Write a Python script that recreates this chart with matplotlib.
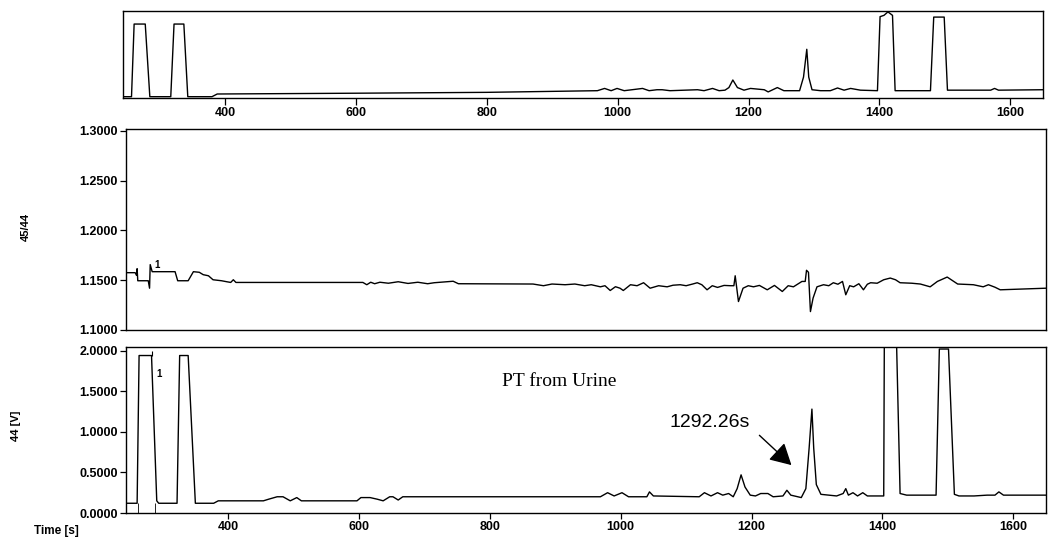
import matplotlib
matplotlib.use('Agg')
import matplotlib.pyplot as plt
import numpy as np

W, H = 1048, 544

# overview trace (relative intensity, 0..1)
overview_trace = [
    (245, 0.015), (257, 0.015), (261, 0.85), (278, 0.85), (285, 0.015),
    (317, 0.015), (322, 0.85), (337, 0.85), (343, 0.015), (380, 0.015),
    (388, 0.046), (600, 0.055), (800, 0.065), (969, 0.084), (980, 0.11),
    (990, 0.084), (999, 0.11), (1010, 0.084), (1038, 0.11), (1048, 0.084),
    (1060, 0.095), (1068, 0.095), (1080, 0.084), (1122, 0.095), (1132, 0.084),
    (1145, 0.11), (1155, 0.084), (1164, 0.09), (1170, 0.12), (1176, 0.207),
    (1183, 0.12), (1193, 0.09), (1203, 0.11), (1224, 0.095), (1230, 0.07),
    (1244, 0.12), (1254, 0.084), (1278, 0.084), (1284, 0.24), (1289, 0.56),
    (1292, 0.24), (1297, 0.095), (1310, 0.084), (1325, 0.084), (1336, 0.115),
    (1346, 0.09), (1356, 0.11), (1371, 0.09), (1397, 0.084), (1401, 0.935),
    (1407, 0.95), (1413, 0.99), (1420, 0.95), (1424, 0.084), (1478, 0.084),
    (1483, 0.93), (1499, 0.93), (1504, 0.09), (1570, 0.09), (1576, 0.11),
    (1582, 0.09), (1650, 0.095),
]

# 45/44 ratio trace
ratio_trace = [
    (244, 1.1576), (258, 1.1576), (260, 1.155), (261, 1.1616), (262, 1.1495),
    (278, 1.1495), (280, 1.142), (281, 1.1657), (284, 1.1586), (319, 1.1586),
    (323, 1.1495), (339, 1.1495), (347, 1.1586), (356, 1.158), (362, 1.1556),
    (370, 1.1545), (377, 1.1505), (390, 1.1495), (398, 1.1485), (404, 1.1478),
    (408, 1.1505), (412, 1.1478), (606, 1.1478), (612, 1.1455), (618, 1.148),
    (624, 1.1465), (632, 1.148), (645, 1.147), (660, 1.1485), (675, 1.1468),
    (690, 1.148), (705, 1.1465), (715, 1.1475), (744, 1.149), (752, 1.1465),
    (866, 1.1462), (882, 1.1445), (895, 1.1462), (915, 1.1455), (930, 1.1462),
    (945, 1.1445), (955, 1.1455), (969, 1.1434), (976, 1.1445), (984, 1.1397),
    (992, 1.1435), (999, 1.142), (1004, 1.1397), (1015, 1.1455), (1025, 1.1445),
    (1035, 1.1475), (1045, 1.142), (1058, 1.1445), (1071, 1.1434), (1080, 1.145),
    (1091, 1.1455), (1100, 1.1445), (1110, 1.1462), (1117, 1.1475), (1124, 1.1455),
    (1132, 1.1404), (1140, 1.1445), (1148, 1.1428), (1158, 1.1448), (1168, 1.1445),
    (1173, 1.1445), (1175, 1.1545), (1180, 1.1286), (1187, 1.142), (1195, 1.1445),
    (1203, 1.1434), (1212, 1.1448), (1224, 1.1404), (1235, 1.1448), (1247, 1.1387),
    (1256, 1.1445), (1264, 1.1434), (1277, 1.1488), (1282, 1.1488), (1284, 1.160),
    (1287, 1.158), (1290, 1.1185), (1294, 1.132), (1300, 1.1434), (1310, 1.1455),
    (1318, 1.1445), (1325, 1.1475), (1332, 1.146), (1339, 1.1488), (1344, 1.1354),
    (1350, 1.1445), (1356, 1.1434), (1364, 1.1465), (1371, 1.1404), (1377, 1.146),
    (1382, 1.1475), (1392, 1.147), (1402, 1.1505), (1412, 1.1522), (1420, 1.1505),
    (1427, 1.1475), (1445, 1.147), (1458, 1.1462), (1473, 1.1434), (1484, 1.1488),
    (1499, 1.1532), (1515, 1.1462), (1539, 1.1455), (1554, 1.1434), (1562, 1.1455),
    (1572, 1.143), (1580, 1.1404), (1650, 1.142),
]

# mass 44 signal [V]
signal_trace = [
    (245, 0.12), (261, 0.12), (264, 1.94), (283, 1.94), (291, 0.15),
    (294, 0.12), (322, 0.12), (326, 1.94), (339, 1.94), (350, 0.12),
    (378, 0.12), (385, 0.15), (454, 0.15), (462, 0.17), (475, 0.2),
    (484, 0.2), (495, 0.15), (505, 0.19), (512, 0.15), (597, 0.15),
    (603, 0.19), (617, 0.19), (628, 0.17), (637, 0.15), (647, 0.2),
    (652, 0.2), (660, 0.16), (667, 0.2), (969, 0.2), (980, 0.25),
    (990, 0.21), (1002, 0.25), (1012, 0.2), (1040, 0.2), (1044, 0.26),
    (1050, 0.21), (1120, 0.2), (1128, 0.25), (1138, 0.21), (1148, 0.25),
    (1156, 0.22), (1165, 0.24), (1172, 0.2), (1178, 0.3), (1184, 0.47),
    (1190, 0.32), (1198, 0.22), (1206, 0.21), (1214, 0.24), (1225, 0.24),
    (1233, 0.2), (1248, 0.21), (1254, 0.28), (1260, 0.22), (1276, 0.19),
    (1283, 0.3), (1288, 0.8), (1292.26, 1.28), (1295, 0.8), (1299, 0.35),
    (1306, 0.23), (1330, 0.21), (1340, 0.24), (1344, 0.3), (1348, 0.22),
    (1355, 0.25), (1362, 0.21), (1370, 0.25), (1377, 0.21), (1402, 0.21),
    (1403, 2.3), (1421, 2.3), (1427, 0.24), (1437, 0.22), (1482, 0.22),
    (1487, 2.02), (1501, 2.02), (1510, 0.23), (1517, 0.21), (1540, 0.21),
    (1560, 0.22), (1572, 0.22), (1578, 0.26), (1585, 0.22), (1650, 0.22),
]

time_ticks = [400, 600, 800, 1000, 1200, 1400, 1600]
ratio_ticks = [1.10, 1.15, 1.20, 1.25, 1.30]
signal_ticks = [0.0, 0.5, 1.0, 1.5, 2.0]
peak_time = 1292.26
xlim = (244, 1650)

tick_font = dict(family='Liberation Sans', size=9, weight='bold')


def rect(x0, y0, x1, y1):
    # pixel box (top-left origin) -> figure fraction
    return [x0 / W, (H - y1) / H, (x1 - x0) / W, (y1 - y0) / H]


def style(ax):
    for s in ax.spines.values():
        s.set_linewidth(1.0)
    ax.tick_params(direction='out', width=0.9, labelsize=9)
    for lab in ax.get_xticklabels() + ax.get_yticklabels():
        lab.set_fontproperties(matplotlib.font_manager.FontProperties(**tick_font))


fig = plt.figure(figsize=(W / 100, H / 100), dpi=100)

ax_top = fig.add_axes(rect(123, 11, 1043, 98))
ax_mid = fig.add_axes(rect(126, 129, 1046, 330))
ax_bot = fig.add_axes(rect(126, 347, 1046, 513))

t, v = np.array(overview_trace).T
ax_top.plot(t, v, color='black', lw=1.0)
ax_top.set_xlim(*xlim)
ax_top.set_ylim(0, 1)
ax_top.set_yticks([])
ax_top.set_xticks(time_ticks)
ax_top.tick_params(axis='x', length=5, pad=1.5)
style(ax_top)

t, v = np.array(ratio_trace).T
ax_mid.plot(t, v, color='black', lw=1.0)
ax_mid.set_xlim(*xlim)
ax_mid.set_ylim(1.1, 1.302)
ax_mid.set_xticks([])
ax_mid.set_yticks(ratio_ticks)
ax_mid.set_yticklabels([f'{x:.4f}' for x in ratio_ticks])
ax_mid.tick_params(axis='y', length=4, pad=2)
style(ax_mid)
ax_mid.text(288, 1.1625, '1', fontsize=7, fontweight='bold', family='Liberation Sans')

t, v = np.array(signal_trace).T
ax_bot.plot(t, v, color='black', lw=1.0)
ax_bot.set_xlim(*xlim)
ax_bot.set_ylim(0, 2.045)
ax_bot.set_xticks(time_ticks)
ax_bot.set_yticks(signal_ticks)
ax_bot.set_yticklabels([f'{x:.4f}' for x in signal_ticks])
ax_bot.tick_params(axis='x', length=4, pad=2)
ax_bot.tick_params(axis='y', length=4, pad=2)
style(ax_bot)

# peak start / apex / end markers of peak 1
ax_bot.vlines([263, 289], 0, 0.12, color='black', lw=0.6)
ax_bot.vlines([284], 1.94, 2.0, color='black', lw=0.8)
ax_bot.text(291, 1.68, '1', fontsize=7, fontweight='bold', family='Liberation Sans')

ax_bot.text(819, 1.62, 'PT from Urine', fontsize=14, family='Liberation Serif',
            ha='left', va='center')
ax_bot.annotate(f'{peak_time:.2f}s', xy=(1261, 0.59), xytext=(1136, 1.12),
                fontsize=14, family='Liberation Sans', ha='center', va='center')
ax_bot.annotate('', xy=(1261, 0.59), xytext=(1212, 0.957),
                arrowprops=dict(arrowstyle='-|>,head_length=1.0,head_width=0.55',
                                mutation_scale=13, lw=1.0, color='black',
                                shrinkA=0, shrinkB=0))

fig.text(26 / W, 1 - 227 / H, '45/44', rotation=90, ha='center', va='center',
         fontsize=8, fontweight='bold', family='Liberation Sans')
fig.text(16 / W, 1 - 426 / H, '44 [V]', rotation=90, ha='center', va='center',
         fontsize=8, fontweight='bold', family='Liberation Sans')
fig.text(56 / W, 1 - 531 / H, 'Time [s]', ha='center', va='center',
         fontsize=8.5, fontweight='bold', family='Liberation Sans')

fig.savefig('out.png', dpi=100)
